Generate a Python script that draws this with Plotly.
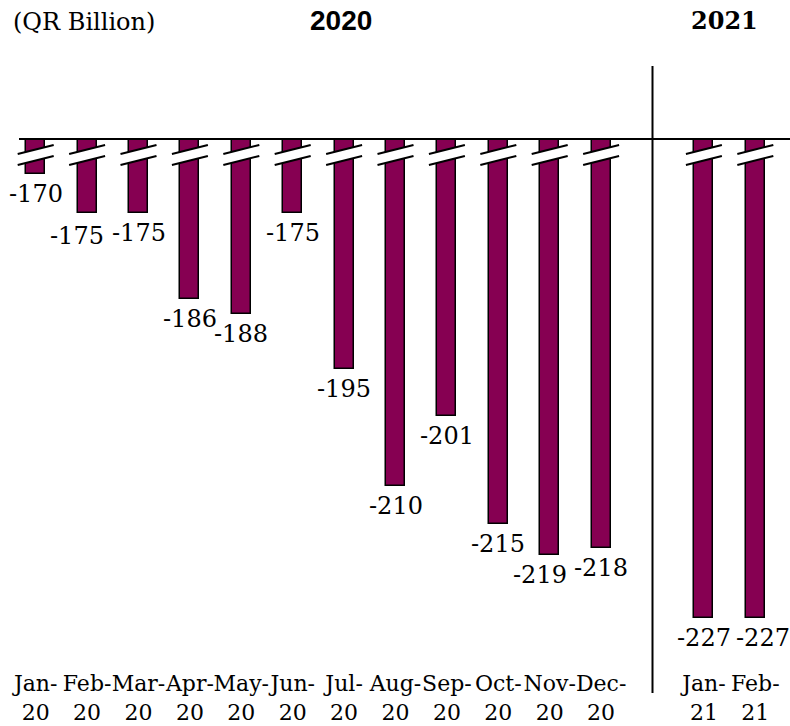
import plotly.graph_objects as go

# ---------------- data ----------------
months = ["Jan-<br>20", "Feb-<br>20", "Mar-<br>20", "Apr-<br>20", "May-<br>20", "Jun-<br>20",
          "Jul-<br>20", "Aug-<br>20", "Sep-<br>20", "Oct-<br>20", "Nov-<br>20", "Dec-<br>20",
          "Jan-<br>21", "Feb-<br>21"]
values = [-170, -175, -175, -186, -188, -175, -195, -210, -201, -215, -219, -218, -227, -227]
slots = [0, 1, 2, 3, 4, 5, 6, 7, 8, 9, 10, 11, 13, 14]   # slot 12 = year separator
separator_slot = 12
label_xshift = [0, -10, 0, 0, 0, 0, 0, 0, 0, 0, -10, 0, 0, 8]
label_yshift = [0, -3, 0, 0, 0, 0, 0, 0, 0, 0, 0, 0, 0, 0]
year_labels = ["2020", "2021"]

# ---------------- geometry / style ----------------
W, H = 790, 726
PL, PR = 10, 781          # plot area x pixels
PT, PB = 139, 670         # plot area y pixels
AXIS_TOP = -165.44        # value at baseline
PX_PER_UNIT = 7.776
AXIS_BOTTOM = AXIS_TOP - (PB - PT) / PX_PER_UNIT

BAR_COLOR = "#860052"
FONT_SERIF = "DejaVu Serif"


def py_to_paper(py):
    return (PB - py) / (PB - PT)


def px_to_paper(px):
    return (px - PL) / (PR - PL)


def py_to_val(py):
    return AXIS_TOP - (py - PT) / PX_PER_UNIT


fig = go.Figure()
fig.add_trace(go.Bar(
    x=slots, y=[v - AXIS_TOP for v in values], base=AXIS_TOP,
    width=0.37,
    marker=dict(color=BAR_COLOR, line=dict(color="black", width=1.5)),
    hoverinfo="skip",
))

# data labels
for s, v, dx, dy in zip(slots, values, label_xshift, label_yshift):
    fig.add_annotation(x=s, y=v, xref="x", yref="y", text=str(v), showarrow=False,
                       yanchor="top", xanchor="center", yshift=-4 + dy, xshift=dx,
                       font=dict(family=FONT_SERIF, size=24, color="black"))

# break marks on every bar
HALF = 0.35
up_l, up_r = py_to_val(154), py_to_val(145)
lo_l, lo_r = py_to_val(165), py_to_val(156)
for s in slots:
    x0, x1 = s - HALF, s + HALF
    fig.add_shape(type="path",
                  path=f"M {x0},{up_l} L {x1},{up_r} L {x1},{lo_r} L {x0},{lo_l} Z",
                  xref="x", yref="y", fillcolor="white", line=dict(width=0))
    fig.add_shape(type="line", x0=x0, y0=up_l, x1=x1, y1=up_r, xref="x", yref="y",
                  line=dict(color="black", width=2))
    fig.add_shape(type="line", x0=x0, y0=lo_l, x1=x1, y1=lo_r, xref="x", yref="y",
                  line=dict(color="black", width=2))

# baseline
fig.add_shape(type="line", xref="paper", yref="paper",
              x0=px_to_paper(19), x1=px_to_paper(790), y0=1, y1=1,
              line=dict(color="black", width=2))
# year separator
fig.add_shape(type="line", xref="x", yref="paper",
              x0=separator_slot, x1=separator_slot, y0=py_to_paper(693), y1=py_to_paper(66),
              line=dict(color="black", width=2))

# header texts
fig.add_annotation(xref="paper", yref="paper", x=px_to_paper(11), y=py_to_paper(22),
                   xanchor="left", yanchor="middle", showarrow=False, text="(QR Billion)",
                   font=dict(family=FONT_SERIF, size=24, color="black"))
fig.add_annotation(xref="paper", yref="paper", x=px_to_paper(341), y=py_to_paper(21),
                   xanchor="center", yanchor="middle", showarrow=False, text=year_labels[0],
                   font=dict(family="Liberation Sans", size=28, color="black", weight="bold"))
fig.add_annotation(xref="paper", yref="paper", x=px_to_paper(724), y=py_to_paper(21),
                   xanchor="center", yanchor="middle", showarrow=False, text=year_labels[1],
                   font=dict(family=FONT_SERIF, size=24, color="black", weight="bold"))

fig.update_layout(
    width=W, height=H,
    margin=dict(l=PL, r=W - PR, t=PT, b=H - PB, pad=0, autoexpand=False),
    plot_bgcolor="white", paper_bgcolor="white",
    showlegend=False, bargap=0,
    xaxis=dict(range=[-0.5, 14.5], tickmode="array", tickvals=slots, ticktext=months,
               showgrid=False, zeroline=False, showline=False, ticks="",
               tickfont=dict(family=FONT_SERIF, size=22, color="black"), tickangle=0,
               ticklabelstandoff=-2, automargin=False, fixedrange=True),
    yaxis=dict(range=[AXIS_BOTTOM, AXIS_TOP], visible=False, fixedrange=True,
               automargin=False),
)

fig.write_html("out.html", config={"displayModeBar": False},
               post_script="document.body.style.margin='0';document.body.style.overflow='hidden';")
